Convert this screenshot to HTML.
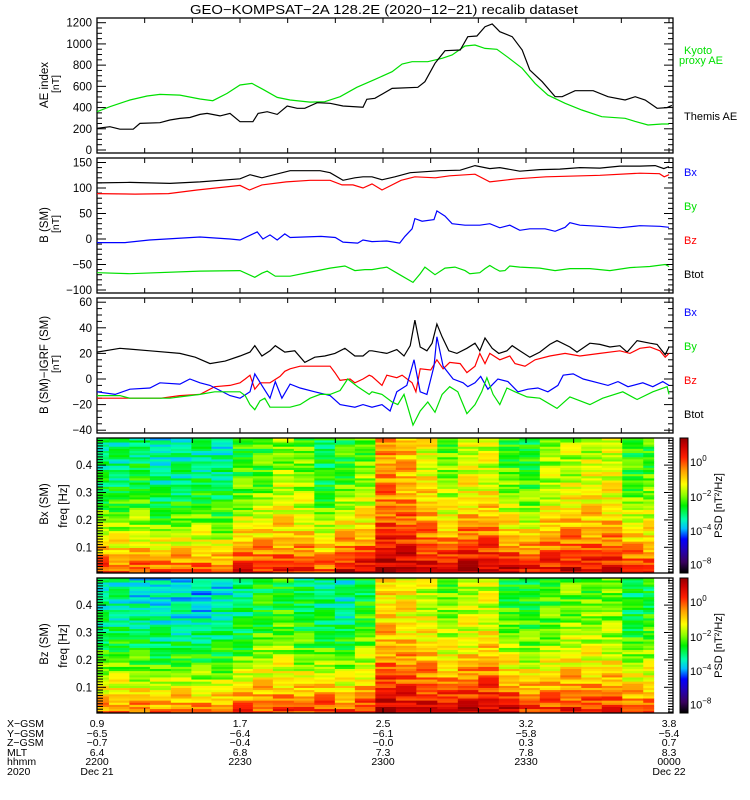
<!DOCTYPE html>
<html><head><meta charset="utf-8"><style>
html,body{margin:0;padding:0;background:#fff;}
svg{display:block;font-family:"Liberation Sans",sans-serif;}
</style></head><body>
<svg id="c" width="750" height="800" viewBox="0 0 750 800" xmlns="http://www.w3.org/2000/svg">
<rect width="750" height="800" fill="#fff"/>
<text x="384" y="14" font-size="13" text-anchor="middle" textLength="388" lengthAdjust="spacingAndGlyphs">GEO−KOMPSAT−2A 128.2E (2020−12−21) recalib dataset</text>
<g id="layer"></g>
</svg>
<script>
// ---------- data (time in minutes after 22:00 UT) ----------
const aeThemisT=[0,2.7,4.8,7.6,9.0,13.2,15.3,17.4,19.5,21.6,23.1,25.8,27.9,30.0,32.7,33.8,35.7,37.8,39.9,42.0,43.6,46.2,48.9,51.6,55.8,56.6,58.3,61.9,67.3,68.8,70.9,73.0,76.2,77.8,79.7,81.4,82.9,84.5,87.1,89.2,90.8,93.4,96.1,97.6,100.3,104.1,107.2,110.8,112.9,115.0,117.5,119.6,120.6];
const aeThemisV=[204,220,196,196,251,257,283,298,306,336,345,321,345,267,267,345,361,336,415,393,393,446,440,415,403,478,487,581,591,644,817,936,943,1068,1075,1162,1188,1115,1068,943,754,644,502,502,559,559,502,471,502,471,393,400,420];
const aeKyotoT=[0,2.7,6.9,10.5,13.2,17.4,21.6,24.3,27.3,30.0,32.5,34.8,37.8,40.5,44.7,47.8,51.0,54.5,58.3,61.9,64.0,66.1,69.4,72.4,74.5,77.2,79.3,81.4,83.9,86.2,89.2,91.9,94.6,98.2,101.7,105.9,110.8,112.9,115.6,118.5,120];
const aeKyotoV=[361,408,471,509,524,518,481,465,534,613,628,572,496,471,452,455,502,591,666,738,811,832,832,864,896,980,990,958,949,874,770,628,518,440,377,314,299,270,236,245,245];

const bTotT=[0,6.9,15.3,21.6,30,32.1,34.6,40.5,46.8,48.9,51.6,54.1,55.8,57.7,59.8,62.5,65.7,72,76.2,79.3,82.4,84.5,88.7,92.9,97.1,101.3,105.5,109.7,113.9,117.1,118.9,120];
const bTotV=[110,111,109,112,118,126,120,134,134,130,115,120,122,122,116,122,130,134,135,144,138,140,133,136,137,140,139,143,143,144,138,142];
const bxT=[0,8,15,21,30,32,34.6,39.7,44.7,48.9,51.4,53.7,55.8,57.7,59.8,63.8,66.7,71,74,79.3,82.4,88,94.2,105.5,113.9,118,119,120];
const bxV=[89,88,89,96,105,96,106,112,115,115,106,106,100,108,96,115,122,120,124,127,112,118,122,125,129,128,122,126];
const bzT=[0,5.9,11,21.6,27.9,30,33.6,34.8,36.3,37.8,39.4,40.5,47,50,51.6,54.7,55.8,57.7,60.8,63.5,64.6,66.1,66.7,68.2,70.7,71.3,73,74.5,77.2,80.3,82.4,84.5,86.6,88.7,90.8,94,96.1,98.2,99.2,101.3,105.5,109.7,113.9,118.1,120];
const bzV=[-7,-7,-2,4,0,-2,14,0,8,-2,10,3,5,3,-6,-8,-2,-5,-4,-8,5,20,40,35,38,55,45,30,27,27,30,22,27,17,20,20,15,23,32,27,25,22,26,25,23];
const byT=[0,6.9,21.6,30,33.1,34.6,35.7,37.4,40.5,44.7,48.9,52,54.1,56.2,57.7,60.8,63.5,66.3,67.8,68.8,70.9,73,75.1,77.2,78.2,80.3,81.4,82.4,83.5,84.5,85.6,86.6,88.7,92.9,96.1,99.2,103.4,107.6,111.8,116,119.2,120];
const byV=[-66,-68,-63,-62,-75,-67,-63,-73,-73,-65,-57,-53,-62,-60,-60,-55,-70,-85,-68,-55,-70,-57,-55,-62,-68,-66,-58,-52,-58,-63,-62,-53,-55,-57,-62,-58,-58,-62,-56,-54,-50,-54];

const dTotT=[0,4.8,11.1,17.4,20.6,23.7,26.9,30,32.1,33.1,34.6,36.3,37.4,39.4,41.5,43.6,45.7,47.8,49.9,52,54.1,55.8,57.1,57.7,60.8,62.9,64.4,65.7,66.7,67.8,69.2,70.3,71.3,72.4,73.8,75.5,77.6,79.3,80.3,81.4,82.9,84.3,86,87.1,88.7,90.8,92.9,95,96.5,99.2,100.7,103.4,105.5,107.6,109.7,111.2,113.3,116,117.5,119.2,120];
const dTotV=[21,24,22,20,17,12,14,18,21,26,18,22,26,21,22,13,17,18,20,24,18,18,22,22,20,23,18,26,46,25,22,28,43,33,22,20,24,28,22,32,24,20,22,26,22,17,21,27,30,25,21,28,27,25,26,21,30,28,27,19,25];
const dxT=[0,13.4,17.4,21.6,24.7,27.9,30,31.1,32.1,33.1,34.2,36.3,38.4,39.4,40.5,42.6,46.8,48.9,49.9,51,53.1,54.1,55.8,57.1,57.7,59.8,60.8,62.9,64,66.1,66.9,67.8,70,71.3,72.6,74,76.2,77.6,79.3,80.3,81.4,82.4,84.5,86.6,87.7,89.8,91.9,95,98.2,101.3,105.5,109.7,111.8,113.9,116,118.1,119.2,120];
const dxV=[-15,-15,-13,-12,-6,-5,-3,0,3,-8,-3,-3,2,6,8,10,10,10,5,-1,0,-3,0,3,2,-5,3,1,3,-3,-10,8,7,15,8,13,12,5,10,20,12,20,15,18,12,10,15,18,20,18,20,22,20,24,25,22,17,20];
const dzT=[0,3.8,6.9,11.1,13.2,17.4,19.5,21.6,23.7,25.8,27.9,30,32.1,33.1,34.6,36.3,37.4,38.8,40.5,42.6,45.7,48.9,51,54.1,55.8,57.7,59.8,61.5,62.9,65,66.5,67.8,69.2,70.7,71.3,72.6,74.7,76.8,77.8,79.3,80.5,82,84.1,86.2,88.3,90.4,92.5,94.6,96.7,97.8,99.9,102,105.1,107.2,109.3,111.4,114.5,116.6,118.7,120];
const dzV=[-10,-12,-8,-7,-3,-4,0,-3,-5,-9,-13,-15,-10,4,-5,-15,-2,-15,-4,-7,-10,-13,-20,-22,-20,-22,-20,-25,-10,-5,15,-10,-12,10,33,10,0,-3,-6,-3,2,-8,0,-2,-10,-8,-7,-10,-5,3,4,0,-3,-5,-2,-6,-3,-6,-2,-5];
const dyT=[0,4.8,6.9,15.3,17.4,21.6,24.7,30,31.1,32.1,33.1,34.2,35.2,36.3,40.5,42.6,44.7,46.8,48.9,51,52.6,54.7,57.1,57.7,59.8,61.9,63.1,64.4,65.2,66.3,67.8,69.4,70.9,72.4,74,75.7,77.6,79.3,80.7,81.8,83.1,84.5,86,87.7,90.2,92.9,96.5,99.2,103.4,106.1,110.3,113.3,116.6,119.6,120];
const dyV=[-13,-13,-15,-15,-14,-12,-10,-10,-13,-20,-24,-17,-15,-22,-22,-20,-15,-12,-12,-9,0,-6,-12,-10,-12,-18,-20,-12,-22,-36,-25,-18,-26,-12,-6,-10,-27,-20,-10,1,-12,-20,-7,-10,-14,-15,-23,-14,-20,-15,-10,-16,-10,-6,-12];

// spectrogram columns (colour-scale fraction of PSD at high and low frequency)
const specColEdges=[-0.3,2.5,6.8,11.1,15.5,19.8,24.0,28.5,32.7,36.9,41.3,45.6,49.9,54.1,58.4,62.7,67.0,71.4,75.7,80.0,84.3,88.6,92.9,97.2,101.6,105.9,110.2,114.6,116.8];
const bxSpecHigh=[0.42,0.42,0.45,0.38,0.40,0.42,0.40,0.50,0.52,0.58,0.55,0.45,0.50,0.55,0.75,0.72,0.65,0.55,0.62,0.62,0.52,0.48,0.58,0.60,0.62,0.62,0.50,0.52];
const bxSpecLow=[0.88,0.85,0.85,0.85,0.85,0.85,0.82,0.90,0.90,0.88,0.88,0.85,0.95,0.95,0.98,0.98,0.95,0.95,0.98,0.98,0.95,0.92,0.92,0.95,0.92,0.92,0.90,0.88];
const bzSpecHigh=[0.40,0.40,0.38,0.36,0.36,0.35,0.38,0.42,0.48,0.50,0.45,0.42,0.40,0.48,0.68,0.66,0.62,0.55,0.60,0.62,0.50,0.48,0.52,0.55,0.55,0.55,0.45,0.48];
const bzSpecLow=[0.80,0.82,0.82,0.80,0.82,0.82,0.80,0.85,0.85,0.85,0.85,0.88,0.85,0.88,0.98,0.96,0.96,0.95,0.95,0.98,0.95,0.88,0.88,0.90,0.88,0.88,0.85,0.85];
const specStripe=[0.05,-0.04,0.02,-0.08,0.06,0.00,-0.05,0.07,-0.02,0.04,-0.07,0.03,0.08,-0.03,-0.06,0.05,0.01,-0.04,0.06,-0.08,0.02,0.07,-0.01,-0.05,0.04,-0.03,0.08,-0.06,0.00,0.05,-0.07,0.03,-0.02,0.06,-0.04,0.01,0.07,-0.05,0.03,-0.01];

const posXGSM=["0.9","1.7","2.5","3.2","3.8"];
const posYGSM=["−6.5","−6.4","−6.1","−5.8","−5.4"];
const posZGSM=["−0.7","−0.4","−0.0","0.3","0.7"];
const posMLT=["6.4","6.8","7.3","7.8","8.3"];
const posHHMM=["2200","2230","2300","2330","0000"];
const posDate=["Dec 21","","","","Dec 22"];

// ---------- helpers ----------
const NS="http://www.w3.org/2000/svg";
const layer=document.getElementById('layer');
function mk(tag,attrs,parent){const e=document.createElementNS(NS,tag);for(const k in attrs)e.setAttribute(k,attrs[k]);(parent||layer).appendChild(e);return e;}
const X0=97,X1=673;
function xs(t){return 97+t*572/120;}

const panels=[
 {top:18,bot:153,y:v=>150-v*0.10608,min:0,max:1200,major:200,minor:50},
 {top:158,bot:293,y:v=>239-v*0.51,min:-100,max:150,major:50,minor:10},
 {top:298,bot:433,y:v=>379-v*1.28,min:-40,max:60,major:20,minor:5}
];

function xTicks(top,bot,g){
 for(let t=0;t<=120;t+=10){const x=xs(t);
  let e=mk('line',{x1:x,x2:x,y1:bot,y2:bot-5,stroke:'#000'},g);
  
  e=mk('line',{x1:x,x2:x,y1:top,y2:top+5,stroke:'#000'},g);
  }
}
function frame(top,bot,name,g){
 const r=mk('rect',{x:X0,y:top,width:X1-X0,height:bot-top,fill:'none',stroke:'#000','stroke-width':1.3},g);
 
}
function line(T,V,yf,color,name,g){
 const pts=T.map((t,i)=>xs(t).toFixed(1)+','+yf(V[i]).toFixed(1)).join(' ');
 const p=mk('polyline',{points:pts,fill:'none',stroke:color,'stroke-width':1.2},g);
 
}
function txt(x,y,s,attrs,name,g){const e=mk('text',Object.assign({x:x,y:y,'font-size':11.5},attrs||{}),g);e.textContent=s;
 return e;}

panels.forEach((p,pi)=>{
 const g=mk('g',{});
 
 for(let v=p.min;v<=p.max+1e-9;v+=p.minor){const y=p.y(v);const maj=Math.abs(v/p.major-Math.round(v/p.major))<1e-6;const L=maj?9:5;
  let e=mk('line',{x1:X0,x2:X0+L,y1:y,y2:y,stroke:'#000'},g);
  
  e=mk('line',{x1:X1,x2:X1-L,y1:y,y2:y,stroke:'#000'},g);
  
  if(maj){txt(92,y+4,String(v).replace('-','−'),{'text-anchor':'end'},'y-tick-label',g);}
 }
 xTicks(p.top,p.bot,g);
 frame(p.top,p.bot,'panel-frame',g);
 p.g=g;
});

line(aeKyotoT,aeKyotoV,panels[0].y,'#00e000','kyoto-ae-line',panels[0].g);
line(aeThemisT,aeThemisV,panels[0].y,'#000','themis-ae-line',panels[0].g);
line(bTotT,bTotV,panels[1].y,'#000','btot-line',panels[1].g);
line(bxT,bxV,panels[1].y,'#f00','bz-red-line',panels[1].g);
line(bzT,bzV,panels[1].y,'#00f','bx-blue-line',panels[1].g);
line(byT,byV,panels[1].y,'#00e000','by-line',panels[1].g);
line(dTotT,dTotV,panels[2].y,'#000','dbtot-line',panels[2].g);
line(dxT,dxV,panels[2].y,'#f00','dbz-red-line',panels[2].g);
line(dzT,dzV,panels[2].y,'#00f','dbx-blue-line',panels[2].g);
line(dyT,dyV,panels[2].y,'#00e000','dby-line',panels[2].g);

// legends
txt(684,54,'Kyoto',{fill:'#00e000','font-size':11},'legend-kyoto');
txt(679,64,'proxy AE',{fill:'#00e000','font-size':11},'legend-kyoto-2');
txt(684,120,'Themis AE',{fill:'#000','font-size':11},'legend-themis');
[[176,'Bx','#00f'],[210,'By','#00e000'],[244,'Bz','#f00'],[278,'Btot','#000']].forEach(a=>txt(684,a[0],a[1],{fill:a[2],'font-size':11},'legend-'+a[1].toLowerCase()));
[[316,'Bx','#00f'],[350,'By','#00e000'],[384,'Bz','#f00'],[418,'Btot','#000']].forEach(a=>txt(684,a[0],a[1],{fill:a[2],'font-size':11},'legend-d'+a[1].toLowerCase()));

// y-axis titles
function vtxt(x,y,s,name,size){const e=mk('text',{x:0,y:0,'font-size':size||11.5,'text-anchor':'middle',transform:`translate(${x},${y}) rotate(-90)`});e.textContent=s;
 return e;}
vtxt(48,85,'AE index','ae-axis-title');vtxt(59,84,'[nT]','ae-axis-unit',10.5);
vtxt(48,225,'B (SM)','b-axis-title');vtxt(59,224,'[nT]','b-axis-unit',10.5);
vtxt(48,365,'B (SM)−IGRF (SM)','db-axis-title');vtxt(59,364,'[nT]','db-axis-unit',10.5);
vtxt(48,504,'Bx (SM)','bx-spec-title');vtxt(67,506,'freq [Hz]','bx-freq-title');
vtxt(48,644,'Bz (SM)','bz-spec-title');vtxt(67,646,'freq [Hz]','bz-freq-title');

// colormap
const cStops=[[0,[0,0,0]],[0.08,[58,0,96]],[0.18,[32,0,192]],[0.25,[0,0,255]],[0.33,[0,192,255]],[0.40,[0,255,176]],[0.50,[0,240,0]],[0.58,[144,255,0]],[0.66,[255,255,0]],[0.76,[255,160,0]],[0.86,[255,32,0]],[0.95,[200,0,0]],[1,[150,0,0]]];
function cmap(f){f=Math.max(0,Math.min(1,f));for(let i=1;i<cStops.length;i++){if(f<=cStops[i][0]){const a=cStops[i-1],b=cStops[i];const u=(f-a[0])/(b[0]-a[0]);const c=a[1].map((v,k)=>Math.round(v+(b[1][k]-v)*u));return `rgb(${c[0]},${c[1]},${c[2]})`;}}return 'rgb(150,0,0)';}

function spectro(top,bot,hi,lo,name){
 const g=mk('g',{});
 
 const nR=64,h=(bot-top)/nR;
 const fy=f=>(bot+1.7)-f*274;
 for(let c=0;c<hi.length;c++){
  const xa=Math.max(X0,xs(specColEdges[c])),xb=xs(specColEdges[c+1]);
  for(let r=0;r<nR;r++){
   const y=bot-(r+1)*h;const fn=(r+0.5)/nR;
   const p=Math.pow(1-fn,2.2);
   const v=hi[c]+(lo[c]-hi[c])*p+specStripe[(r*3+c*7)%specStripe.length];
   const e=mk('rect',{x:xa.toFixed(2),y:y.toFixed(2),width:(xb-xa+0.4).toFixed(2),height:(h+0.3).toFixed(2),fill:cmap(v)},g);
   
  }
 }
 for(let k=1;k<=49;k++){const f=k/100;const y=fy(f);if(y<top)break;const maj=k%10==0;
  let e=mk('line',{x1:X0,x2:X0+(maj?9:6),y1:y,y2:y,stroke:'#000'},g);
  
  e=mk('line',{x1:X1,x2:X1-(maj?9:5),y1:y,y2:y,stroke:'#000'},g);
  
  if(maj)txt(92,y+4,'0.'+(k/10),{'text-anchor':'end'},'freq-tick-label',g);}
 xTicks(top,bot,g);
 frame(top,bot,'spec-frame',g);
 // colorbar
 const cb=mk('g',{});
 
 for(let i=0;i<135;i++){const e=mk('rect',{x:680,y:bot-i-1,width:8,height:1.2,fill:cmap(i/134)},cb);
  }
 const br=mk('rect',{x:680,y:top,width:8,height:bot-top,fill:'none',stroke:'#000'},cb);
 
 [[0.83,'0'],[0.57,'−2'],[0.32,'−4'],[0.07,'−8']].forEach(a=>{const y=bot-a[0]*135;
  const t=txt(690,y+5,'10',{'font-size':11},'colorbar-label',cb);
  const s=mk('tspan',{dy:-5,'font-size':8},t);s.textContent=a[1];});
 vtxt(722,(top+bot)/2,'PSD [nT²/Hz]','psd-axis-title',11);
}
spectro(438,573,bxSpecHigh,bxSpecLow,'bx-spectrogram');
spectro(578,713,bzSpecHigh,bzSpecLow,'bz-spectrogram');

// bottom annotation
const rowNames=['X−GSM','Y−GSM','Z−GSM','MLT','hhmm','2020'];
const rowVals=[posXGSM,posYGSM,posZGSM,posMLT,posHHMM,posDate];
const rowY=[727,737,746,756,765,775];
rowNames.forEach((n,i)=>{txt(7,rowY[i],n,{'font-size':10.5},'orbit-row-label');
 rowVals[i].forEach((s,j)=>{if(s)txt(xs(j*30),rowY[i],s,{'font-size':10.5,'text-anchor':'middle'},'orbit-value');});});
</script>
</body></html>
